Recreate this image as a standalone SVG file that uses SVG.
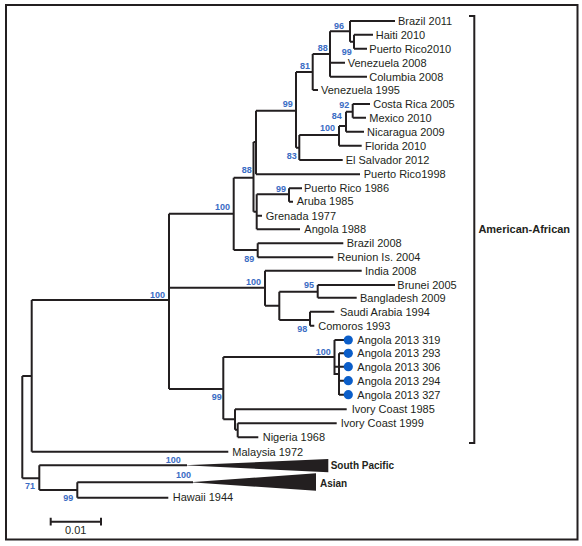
<svg xmlns="http://www.w3.org/2000/svg" width="582" height="546" viewBox="0 0 582 546">
<style>
.e{fill:none;stroke:#231f20;stroke-width:2;stroke-linecap:butt}
.t{font-family:"Liberation Sans",Arial,sans-serif;font-size:11px;fill:#231f20}
.b{font-family:"Liberation Sans",Arial,sans-serif;font-size:9px;font-weight:bold;fill:#3a6cc4}
.g{font-family:"Liberation Sans",Arial,sans-serif;font-weight:bold;fill:#231f20}
.d{fill:#0b5ec9}
</style>
<rect x="6" y="5" width="571.5" height="534.5" fill="#fff" stroke="#231f20" stroke-width="2"/>
<g id="connectors">
<path class="e" d="M350,21V41.7M350,21H395M350,41.7H354M354,34.7V48.7M354,34.7H373M354,48.7H367"/>
<path class="e" d="M330,31.3V76.7M330,31.3H350M330,62.7H345M330,76.7H367"/>
<path class="e" d="M312.7,54V90M312.7,54H330M312.7,90H318"/>
<path class="e" d="M296,72V147.7M296,72H312.7M296,147.7H299.3"/>
<path class="e" d="M299.3,135V160M299.3,135H339M299.3,160H342.7"/>
<path class="e" d="M339,126V145.7M339,126H346M339,145.7H361.7"/>
<path class="e" d="M346,111.7V131.7M346,111.7H352.7M346,131.7H364"/>
<path class="e" d="M352.7,104V117.7M352.7,104H370M352.7,117.7H366"/>
<path class="e" d="M256,110.7V174.3M256,110.7H296M256,174.3H360"/>
<path class="e" d="M253.5,142V211.7M253.5,142H256M253.5,211.7H256.7"/>
<path class="e" d="M256.7,194.3V229.3M256.7,194.3H289M256.7,215.7H262M256.7,229.3H300"/>
<path class="e" d="M289,188.3V201.7M289,188.3H302M289,201.7H293"/>
<path class="e" d="M233.7,177.7V250M233.7,177.7H253.5M233.7,250H257.7"/>
<path class="e" d="M257.7,243.3V257.3M257.7,243.3H343.3M257.7,257.3H333.3"/>
<path class="e" d="M169,213.7V389M169,213.7H233.7M169,287.7H265M169,389H223.3M31.7,300H169"/>
<path class="e" d="M265,270.7V305.7M265,270.7H361.7M265,305.7H279.3"/>
<path class="e" d="M279.3,291.7V320M279.3,291.7H317.7M279.3,320H310"/>
<path class="e" d="M317.7,285V297.7M317.7,285H395M317.7,297.7H356.7"/>
<path class="e" d="M310,311.7V325.7M310,311.7H334.3M310,325.7H314.3"/>
<path class="e" d="M223.3,357V419.3M223.3,357H334.5M223.3,419.3H235"/>
<path class="e" d="M334.5,340V375M334.5,340H344M334.5,366.7H344M334.5,374H339M339,353.3V395M339,353.3H344M339,380.7H344M339,394.7H344"/>
<path class="e" d="M235,409.3V429.7M235,409.3H346.7M235,429.7H237.7"/>
<path class="e" d="M237.7,423.3V437.3M237.7,423.3H336.7M237.7,437.3H258.3"/>
<path class="e" d="M31.7,300V451.7M31.7,451.7H228.3"/>
<path class="e" d="M22.3,376V478.3M22.3,376H31.7M22.3,478.3H39.3"/>
<path class="e" d="M39.3,465.3V490M39.3,465.3H187M39.3,490H77.3"/>
<path class="e" d="M77.3,482.3V497.7M77.3,482.3H193M77.3,497.7H168.3"/>
<path class="e" d="M469,16H474.3V443H469"/>
<path class="e" d="M50.7,521.7H101M50.7,517.8V525.6M101,517.8V525.6"/>
</g>
<g id="collapsed">
<polygon points="184,465.3 328.3,459 328.3,472.3" fill="#231f20"/>
<polygon points="190,482.3 316,473.3 316,490.7" fill="#231f20"/>
</g>
<g id="dots">
<circle class="d" cx="348.3" cy="340" r="4.6"/>
<circle class="d" cx="348.3" cy="353.3" r="4.6"/>
<circle class="d" cx="348.3" cy="366.7" r="4.6"/>
<circle class="d" cx="348.3" cy="380.7" r="4.6"/>
<circle class="d" cx="348.3" cy="394.7" r="4.6"/>
</g>
<g id="leaves">
<text class="t" x="398" y="24.7">Brazil 2011</text>
<text class="t" x="375.7" y="38.7">Haiti 2010</text>
<text class="t" x="369.3" y="52.7">Puerto Rico2010</text>
<text class="t" x="347.7" y="66.7">Venezuela 2008</text>
<text class="t" x="369.3" y="80.7">Columbia 2008</text>
<text class="t" x="321" y="94">Venezuela 1995</text>
<text class="t" x="373.3" y="108">Costa Rica 2005</text>
<text class="t" x="369.3" y="121.7">Mexico 2010</text>
<text class="t" x="367" y="135.7">Nicaragua 2009</text>
<text class="t" x="365" y="149.7">Florida 2010</text>
<text class="t" x="345.7" y="164">El Salvador 2012</text>
<text class="t" x="363.7" y="177.5">Puerto Rico1998</text>
<text class="t" x="304" y="191.7">Puerto Rico 1986</text>
<text class="t" x="296.7" y="205">Aruba 1985</text>
<text class="t" x="265.7" y="219.7">Grenada 1977</text>
<text class="t" x="304.3" y="233.3">Angola 1988</text>
<text class="t" x="346.7" y="246.7">Brazil 2008</text>
<text class="t" x="337.3" y="261.3">Reunion Is. 2004</text>
<text class="t" x="365" y="274.7">India 2008</text>
<text class="t" x="397.3" y="289">Brunei 2005</text>
<text class="t" x="360" y="301.7">Bangladesh 2009</text>
<text class="t" x="340" y="315.7">Saudi Arabia 1994</text>
<text class="t" x="318.3" y="329.7">Comoros 1993</text>
<text class="t" x="357.3" y="344">Angola 2013 319</text>
<text class="t" x="357.3" y="357.3">Angola 2013 293</text>
<text class="t" x="357.3" y="371">Angola 2013 306</text>
<text class="t" x="357.3" y="385">Angola 2013 294</text>
<text class="t" x="357.3" y="399">Angola 2013 327</text>
<text class="t" x="351.7" y="413.3">Ivory Coast 1985</text>
<text class="t" x="340.7" y="427.3">Ivory Coast 1999</text>
<text class="t" x="262.7" y="441.3">Nigeria 1968</text>
<text class="t" x="232.3" y="455.7">Malaysia 1972</text>
<text class="t" x="172.7" y="500.7">Hawaii 1944</text>
<text class="g" x="330.7" y="469" font-size="10">South Pacific</text>
<text class="g" x="320" y="487" font-size="10">Asian</text>
<text class="g" x="478.4" y="233" font-size="11">American-African</text>
<text class="t" x="75.7" y="533.5" font-size="8" text-anchor="middle">0.01</text>
</g>
<g id="bootstrap">
<text class="b" x="334" y="28.9">96</text>
<text class="b" x="317.7" y="50.9">88</text>
<text class="b" x="341.7" y="54.9">99</text>
<text class="b" x="300" y="68.9">81</text>
<text class="b" x="339.3" y="107.5">92</text>
<text class="b" x="331.7" y="118.9">84</text>
<text class="b" x="320" y="130.9">100</text>
<text class="b" x="282.7" y="106.5">99</text>
<text class="b" x="286.7" y="158.9">83</text>
<text class="b" x="241.7" y="173.2">88</text>
<text class="b" x="276" y="191.5">99</text>
<text class="b" x="215" y="209.9">100</text>
<text class="b" x="244.3" y="261.5">89</text>
<text class="b" x="246" y="284.9">100</text>
<text class="b" x="304" y="287.5">95</text>
<text class="b" x="150" y="297.5">100</text>
<text class="b" x="297.3" y="331.5">98</text>
<text class="b" x="315.7" y="354.9">100</text>
<text class="b" x="211.7" y="399.9">99</text>
<text class="b" x="165.7" y="462.5">100</text>
<text class="b" x="176" y="477.5">100</text>
<text class="b" x="25" y="489.2">71</text>
<text class="b" x="63.3" y="500.9">99</text>
</g>
</svg>
